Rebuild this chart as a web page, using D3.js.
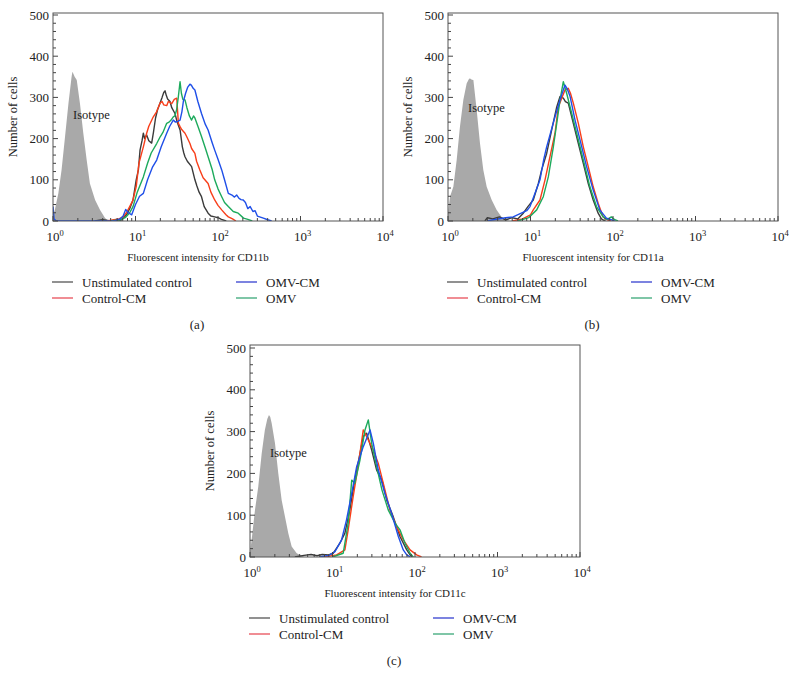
<!DOCTYPE html>
<html>
<head>
<meta charset="utf-8">
<script src="https://cdn.jsdelivr.net/npm/d3@7/dist/d3.min.js"></script>
<style>
  html, body { margin: 0; padding: 0; background: #fff; }
  svg { display: block; }
</style>
</head>
<body>
<svg id="chart" width="789" height="673"></svg>
<script>
// ---------------- DATA (fluorescence intensity, number of cells) ----------------
const seriesNames = ["Unstimulated control", "Control-CM", "OMV-CM", "OMV"];
const yTicks = [0, 100, 200, 300, 400, 500];
const xDecades = [1, 10, 100, 1000, 10000];
const xLabels = ["Fluorescent intensity for CD11b", "Fluorescent intensity for CD11a", "Fluorescent intensity for CD11c"];
const panelCaptions = ["(a)", "(b)", "(c)"];

// Panel (a) CD11b
const isoA = [[1.0,10],[1.06,30],[1.16,67],[1.27,124],[1.40,205],[1.54,286],[1.68,350],[1.72,362],[1.76,358],[1.83,350],[1.94,342],[2.12,286],[2.33,213],[2.56,148],[2.80,91],[3.24,51],[3.72,27],[4.27,7],[4.7,0]];
const unstimA = [[3.2,0],[4.0,3],[5.0,0],[6.0,4],[6.5,0],[7.08,6],[7.76,15],[8.5,30],[9.33,51],[10.2,100],[10.84,124],[11.35,172],[12.0,195],[12.45,213],[12.9,200],[13.65,209],[14.5,195],[15.7,189],[16.5,215],[17.5,250],[18.5,270],[19.8,286],[21.0,300],[22.0,312],[22.8,316],[23.6,305],[24.5,296],[26.2,290],[27.5,275],[30.1,261],[32.0,240],[34.7,221],[36.98,180],[38.5,165],[39.8,156],[42.5,145],[47.9,132],[52.5,100],[55.5,85],[59.0,70],[63.1,59],[68,35],[75.9,19],[82,12],[91.2,10],[100,8],[110,4],[125.9,0]];
const ctrlCmA = [[4.5,0],[5.5,3],[6.3,5],[7.08,10],[7.76,20],[8.5,35],[9.3,50],[10.23,85],[11.0,140],[12.45,180],[13.65,213],[14.5,230],[16.44,253],[18.0,265],[19.82,286],[21.0,290],[22.0,282],[23.88,280],[25.0,290],[27.5,285],[29.5,295],[31.62,298],[33.11,237],[34.67,229],[36.3,222],[39.8,213],[41.69,205],[45.7,188],[47.86,176],[52.48,164],[55,145],[60.26,124],[66,105],[75.86,91],[82,70],[91.2,51],[100,38],[110.9,27],[125,15],[133.4,10],[150,5],[165,0]];
const omvCmA = [[1.0,35],[1.03,5],[1.1,0],[5.5,0],[6.5,5],[7.08,12],[7.6,28],[8.2,20],[9.0,15],[10.0,40],[11.2,60],[12.45,67],[14,100],[16,130],[18.07,148],[20.5,180],[23.88,213],[26,230],[28.71,245],[30.5,240],[32.5,242],[34.67,245],[36.5,265],[38.02,290],[40.5,310],[43,325],[45.71,332],[47.5,330],[50,322],[52.48,318],[57,290],[63.1,261],[70,235],[75.86,221],[85,190],[91.2,172],[100,150],[110.9,124],[120,100],[133.4,67],[150,62],[158.5,58],[168.7,63],[180,55],[190,52],[202.3,51],[215,45],[230,30],[245.5,35],[265,23],[281.8,25],[300,12],[354.8,7],[400,3],[446.7,0]];
const omvA = [[5.0,0],[6.5,3],[7.5,8],[8.5,20],[9.33,35],[10.5,70],[12.45,107],[14,140],[15.5,165],[18.07,188],[20.0,205],[21.5,215],[23.88,237],[25.5,240],[27,245],[28.71,253],[30,255],[31.5,270],[33,300],[34.67,338],[36,310],[37.5,295],[39.81,294],[42,275],[45,255],[47.86,245],[50.5,255],[52.48,250],[57.5,228],[63.1,205],[70,178],[75.86,156],[85,125],[91.2,100],[100,78],[110.9,59],[120,45],[133.4,35],[153,23],[175.8,19],[204,7],[230,4],[260,0]];

// Panel (b) CD11a
const isoB = [[1.0,20],[1.057,59],[1.161,83],[1.274,148],[1.396,229],[1.535,294],[1.683,334],[1.80,345],[1.85,346],[1.95,343],[2.03,342],[2.228,269],[2.443,188],[2.679,124],[2.944,83],[3.388,51],[3.89,27],[4.467,10],[5.0,3],[5.6,0]];
const unstimB = [[2.8,0],[3.0,8],[3.5,5],[4.2,10],[5.0,3],[6.0,8],[7.0,5],[8.18,19],[9.3,35],[10.8,51],[12.45,91],[13.65,124],[15.7,164],[18.07,221],[20.8,277],[22.8,302],[25.0,298],[26.5,290],[28.71,286],[33.04,237],[38.02,188],[43.65,140],[50.12,91],[57.54,51],[66.07,19],[72.44,5],[80,0]];
const ctrlCmB = [[6.0,0],[8.0,5],[10.0,15],[10.8,27],[13.03,51],[15.0,100],[17.22,156],[19.82,213],[21.73,277],[26.18,318],[28.71,322],[30.5,310],[33.04,286],[38.02,237],[43.65,180],[50.12,132],[57.54,83],[66.07,43],[75.86,10],[85,3],[95,0]];
const omvCmB = [[3.0,0],[4.0,5],[5.0,8],[6.17,10],[7.5,18],[9.0,25],[9.86,35],[11.0,60],[13.03,100],[14.5,150],[15.7,180],[17.22,209],[19.82,253],[22.8,294],[26.18,330],[28,320],[30.2,302],[34.67,245],[39.81,197],[47.86,132],[57.54,75],[69.18,27],[83.18,7],[95,3],[105,0]];
const omvB = [[7.0,0],[9.5,8],[11.89,27],[14.29,59],[16.44,107],[18.92,180],[20.8,237],[22.8,294],[25.0,338],[27.42,310],[31.62,261],[36.31,213],[43.65,148],[52.48,83],[63.1,35],[75.86,10],[85,4],[95.5,10],[105,3],[115,0]];

// Panel (c) CD11c
const isoC = [[1.0,10],[1.047,41],[1.148,112],[1.259,168],[1.387,248],[1.514,304],[1.62,330],[1.698,340],[1.76,335],[1.832,320],[2.009,272],[2.203,200],[2.421,136],[2.655,96],[2.911,57],[3.199,25],[3.681,9],[4.2,3],[4.6,0]];
const unstimC = [[3.5,0],[4.5,4],[5.5,6],[6.5,3],[7.5,6],[9.0,5],[10.23,9],[12.3,33],[14.13,57],[16.22,112],[18.62,184],[21.53,248],[23.6,288],[25.94,296],[27.5,280],[29.85,256],[34.28,208],[39.81,184],[45.39,136],[54.58,96],[65.77,49],[79.43,17],[87.1,5],[95,0]];
const ctrlCmC = [[8,0],[11.22,5],[14.13,17],[15.49,65],[17.78,144],[20.42,216],[23.6,304],[27.16,280],[31.26,256],[35.89,224],[41.3,176],[49.77,112],[59.98,72],[72.11,41],[87.1,17],[104.7,5],[120,0]];
const omvCmC = [[7,0],[9.0,4],[10.72,13],[12.88,41],[14.79,89],[17.1,152],[19.63,216],[23.6,264],[28.51,304],[31.26,272],[35.89,208],[43.25,152],[52.12,104],[62.81,49],[72.11,17],[79.43,5],[88,0]];
const omvC = [[10,0],[13.49,9],[15.49,81],[17.1,184],[18.62,176],[21.53,232],[24.77,304],[27.16,328],[29.85,272],[34.28,216],[39.81,160],[47.53,112],[57.28,81],[65.77,65],[75.68,33],[87.1,9],[95,0]];

// ---------------- STYLE / LAYOUT ----------------
const FONT = "'Liberation Serif', 'DejaVu Serif', serif";
const curveColors = { unstim: "#3b3b3b", ctrl: "#f83e1a", omvcm: "#1f4fe8", omv: "#1daa5c" };
const legendColors = ["#555555", "#e8505a", "#3540d0", "#3aa878"];
const isoColor = "#a9a9a9";

const panels = [
  { left: 53, top: 13, bottom: 221, y500: 15, iso: isoA, curves: [[unstimA,"unstim"],[ctrlCmA,"ctrl"],[omvA,"omv"],[omvCmA,"omvcm"]], isoLabel: [73, 119], xl: 0 },
  { left: 448, top: 13, bottom: 221, y500: 15, iso: isoB, curves: [[unstimB,"unstim"],[ctrlCmB,"ctrl"],[omvB,"omv"],[omvCmB,"omvcm"]], isoLabel: [468, 112], xl: 1 },
  { left: 250, top: 345, bottom: 557, y500: 348, iso: isoC, curves: [[unstimC,"unstim"],[ctrlCmC,"ctrl"],[omvC,"omv"],[omvCmC,"omvcm"]], isoLabel: [270, 457], xl: 2 }
];
const plotW = 330;

const svg = d3.select("#chart");

panels.forEach((p, i) => {
  const x = d3.scaleLog().domain([1, 10000]).range([p.left, p.left + plotW]);
  const y = d3.scaleLinear().domain([0, 500]).range([p.bottom, p.y500]);
  const g = svg.append("g");

  const clipId = "clip" + i;
  g.append("clipPath").attr("id", clipId).append("rect")
    .attr("x", p.left).attr("y", p.top).attr("width", plotW).attr("height", p.bottom - p.top);

  // isotype filled histogram
  const area = d3.area().x(d => x(d[0])).y0(y(0)).y1(d => y(d[1]));
  g.append("path").datum(p.iso).attr("d", area).attr("fill", isoColor).attr("clip-path", `url(#${clipId})`);

  // curves
  const line = d3.line().x(d => x(d[0])).y(d => y(d[1]));
  p.curves.forEach(([data, key]) => {
    g.append("path").datum(data).attr("d", line)
      .attr("fill", "none").attr("stroke", curveColors[key]).attr("stroke-width", 1.4)
      .attr("stroke-linejoin", "round")
      .attr("clip-path", `url(#${clipId})`);
  });

  // frame
  g.append("rect").attr("x", p.left).attr("y", p.top).attr("width", plotW).attr("height", p.bottom - p.top)
    .attr("fill", "none").attr("stroke", "#555").attr("stroke-width", 1);

  // y ticks (inward)
  const yMinor = d3.range(0, 501, 20);
  g.selectAll(".ytick").data(yMinor).enter().append("line")
    .attr("x1", p.left).attr("x2", d => p.left + (d % 100 === 0 ? 5 : 3))
    .attr("y1", d => y(d)).attr("y2", d => y(d))
    .attr("stroke", "#444").attr("stroke-width", 1);
  g.selectAll(".ylab").data(yTicks).enter().append("text")
    .attr("x", p.left - 4).attr("y", d => y(d) + 4.5)
    .attr("text-anchor", "end").attr("font-family", FONT).attr("font-size", 13).attr("fill", "#222")
    .text(d => d);

  // x ticks (inward)
  const xMinor = [];
  for (let dec = 1; dec < 10000; dec *= 10) for (let k = 1; k < 10; k++) xMinor.push(dec * k);
  xMinor.push(10000);
  g.selectAll(".xtick").data(xMinor).enter().append("line")
    .attr("x1", d => x(d)).attr("x2", d => x(d))
    .attr("y1", p.bottom).attr("y2", d => p.bottom - (xDecades.includes(d) ? 5 : 3))
    .attr("stroke", "#444").attr("stroke-width", 1);
  const xl = g.selectAll(".xlab").data(xDecades).enter().append("text")
    .attr("x", d => x(d) + 2).attr("y", p.bottom + 20)
    .attr("text-anchor", "middle").attr("font-family", FONT).attr("font-size", 13).attr("fill", "#222");
  xl.append("tspan").text("10");
  xl.append("tspan").attr("dy", -5).attr("font-size", 8.5).text(d => Math.round(Math.log10(d)));

  // axis titles
  g.append("text").attr("x", p.left + 145).attr("y", p.bottom + 40)
    .attr("text-anchor", "middle").attr("font-family", FONT).attr("font-size", 11).attr("fill", "#222")
    .text(xLabels[p.xl]);
  g.append("text")
    .attr("transform", `translate(${p.left - 36},${(p.top + p.bottom) / 2}) rotate(-90)`)
    .attr("text-anchor", "middle").attr("font-family", FONT).attr("font-size", 12.5).attr("fill", "#222")
    .text("Number of cells");

  // isotype label
  g.append("text").attr("x", p.isoLabel[0]).attr("y", p.isoLabel[1])
    .attr("font-family", FONT).attr("font-size", 12.5).attr("fill", "#222").text("Isotype");

  // legend
  const legPos = [[0, 0], [0, 1], [1, 0], [1, 1]];
  seriesNames.forEach((name, k) => {
    const lx = p.left - 1 + legPos[k][0] * 184;
    const ly = p.bottom + 61 + legPos[k][1] * 16;
    g.append("line").attr("x1", lx).attr("x2", lx + 21).attr("y1", ly).attr("y2", ly)
      .attr("stroke", legendColors[k]).attr("stroke-width", 1.3);
    g.append("text").attr("x", lx + 30).attr("y", ly + 4.5)
      .attr("font-family", FONT).attr("font-size", 13).attr("fill", "#222").text(name);
  });

  // caption
  g.append("text").attr("x", p.left + 144).attr("y", p.bottom + 108)
    .attr("text-anchor", "middle").attr("font-family", FONT).attr("font-size", 13).attr("fill", "#222")
    .text(panelCaptions[i]);
});
</script>
</body>
</html>
